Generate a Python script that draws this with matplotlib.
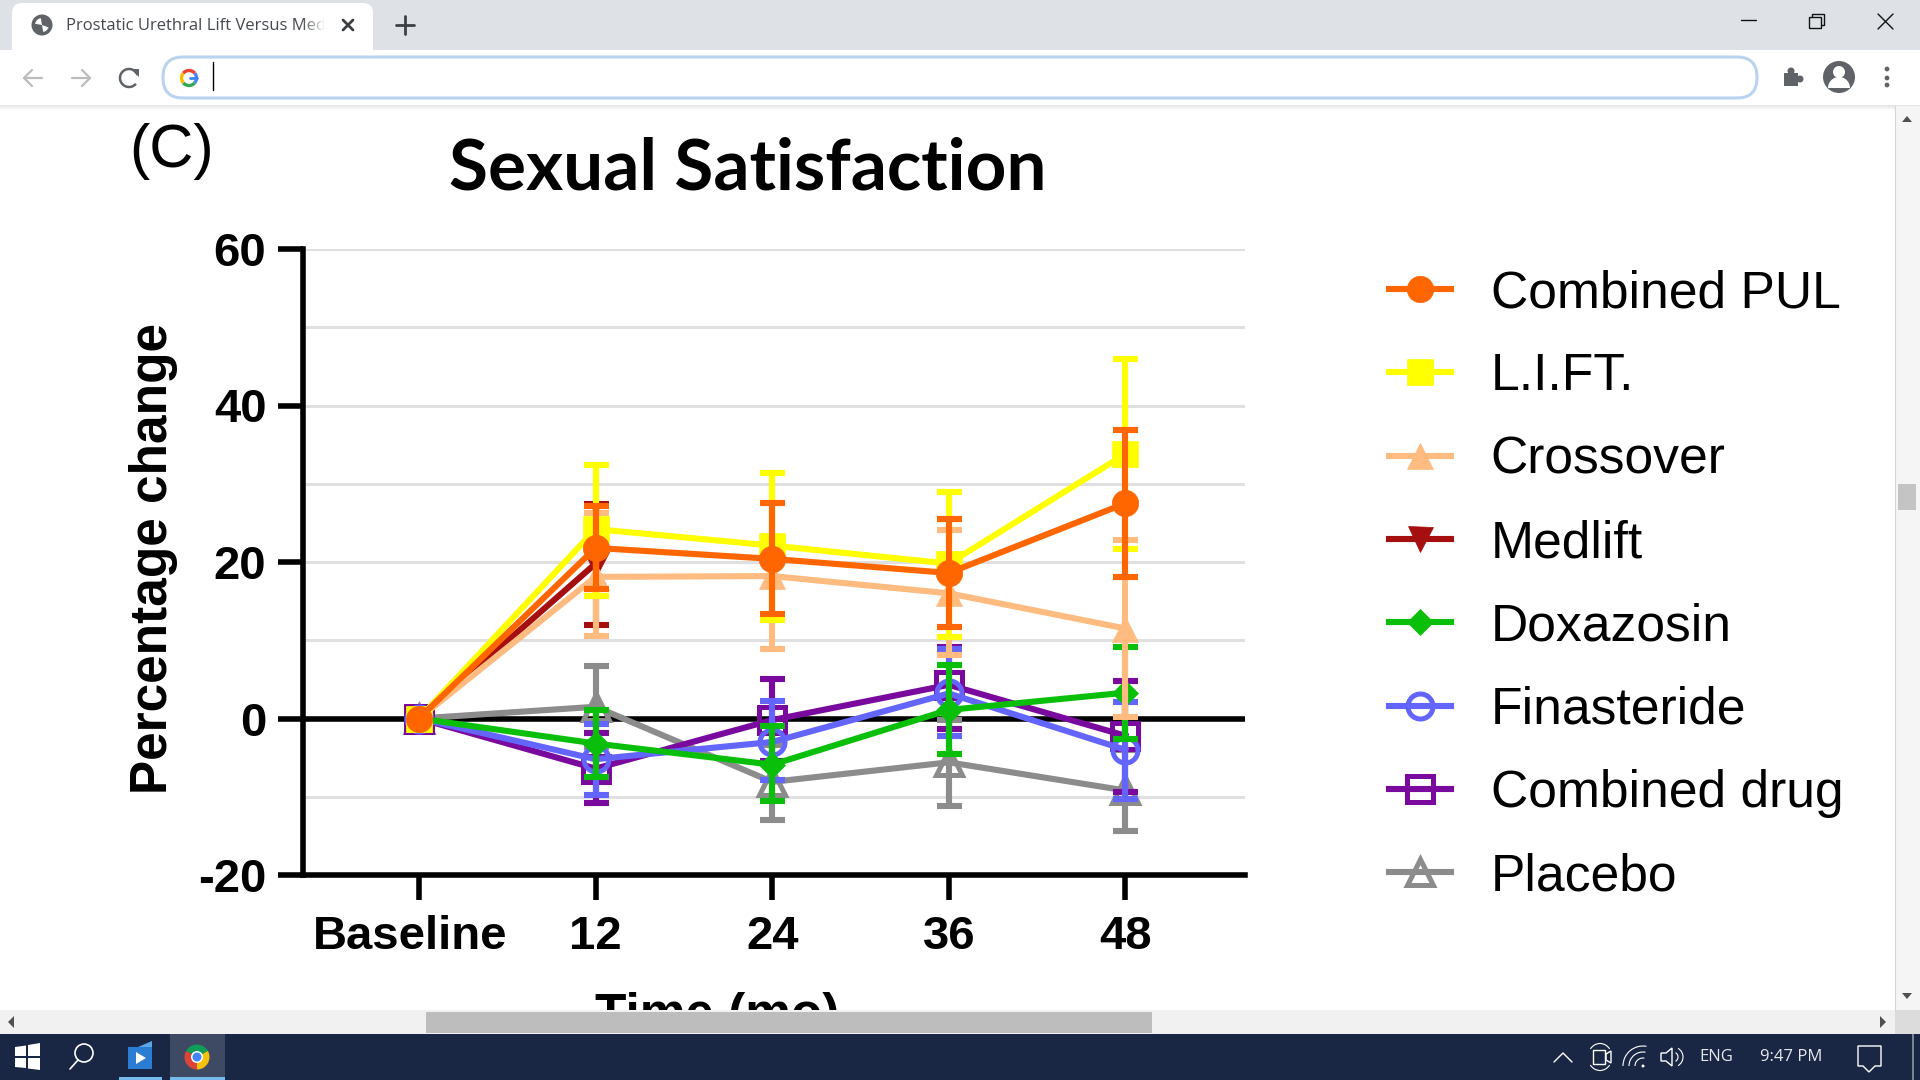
# Sexual Satisfaction chart in a browser window screenshot
import numpy as np
import matplotlib
matplotlib.use("Agg")
import matplotlib.pyplot as plt
from matplotlib.patches import Rectangle, FancyBboxPatch, Circle, Polygon, Arc, Wedge
from matplotlib.transforms import ScaledTranslation

plt.rcParams["axes.unicode_minus"] = False

# --------------------------------------------------- data
time_labels = ["Baseline", "12", "24", "36", "48"]
time_pos = [0, 1, 2, 3, 4]

placebo = [0, 1.5, -8.1, -5.6, -9.2]
placebo_hi = [0, 6.7, -3.4, -0.2, -4.0]
placebo_lo = [0, -3.7, -13.0, -11.2, -14.4]

combined_drug = [0, -6.4, -0.2, 4.3, -2.2]
combined_drug_hi = [0, -1.9, 5.1, 9.1, 4.8]
combined_drug_lo = [0, -10.8, -5.4, -1.3, -9.4]

finasteride = [0, -5.2, -3.0, 3.2, -4.0]
finasteride_hi = [0, -0.7, 2.3, 8.9, 2.1]
finasteride_lo = [0, -9.8, -7.9, -2.3, -10.3]

doxazosin = [0, -3.2, -5.9, 1.1, 3.3]
doxazosin_hi = [0, 1.1, -0.9, 6.8, 9.2]
doxazosin_lo = [0, -7.5, -10.5, -4.6, -2.6]

medlift = [0, 19.8]
medlift_hi = [0, 27.4]
medlift_lo = [0, 12.0]

crossover = [0, 18.1, 18.2, 16.0, 11.5]
crossover_hi = [0, 26.2, 27.5, 24.1, 22.8]
crossover_lo = [0, 10.5, 8.9, 8.1, 0.2]

lift = [0, 24.2, 22.1, 19.8, 33.8]
lift_hi = [0, 32.4, 31.4, 28.9, 46.0]
lift_lo = [0, 15.7, 12.6, 10.4, 21.6]

combined_pul = [0, 21.8, 20.4, 18.6, 27.5]
combined_pul_hi = [0, 27.1, 27.5, 25.5, 36.9]
combined_pul_lo = [0, 16.6, 13.4, 11.7, 18.1]

# --------------------------------------------------- figure, axes placed in pixels
W, H = 1920, 1080
fig = plt.figure(figsize=(W / 100, H / 100), dpi=100)
fig.patch.set_facecolor("white")

ax_l, ax_r, ax_t, ax_b = 302.5, 1245, 249, 875
ax = fig.add_axes([ax_l / W, 1 - ax_b / H, (ax_r - ax_l) / W, (ax_b - ax_t) / H])
ax.set_zorder(1)
tick_x0 = 419
tick_dx = 176.6
ax.set_xlim((ax_l - tick_x0) / tick_dx, (ax_r - tick_x0) / tick_dx)
ax.set_ylim(-20, 60)

LW = 4.4
AXIS_LW = 4
arial = "Liberation Sans"


def draw_series(y, hi, lo, color, marker, label, ms, z, open_marker=False):
    x = time_pos[:len(y)]
    ax.errorbar(x[1:], y[1:],
                yerr=[np.array(y[1:]) - np.array(lo[1:]), np.array(hi[1:]) - np.array(y[1:])],
                fmt="none", ecolor=color, elinewidth=LW, capsize=9, capthick=LW, zorder=z)
    ax.plot(x, y, color=color, lw=LW, marker=marker, ms=ms, label=label, zorder=z,
            mfc="none" if open_marker else color, mec=color, mew=3.6 if open_marker else 0.5)


# legend order is set below, draw order puts Combined PUL on top
draw_series(placebo, placebo_hi, placebo_lo, "#8C8C8C", "^", "Placebo", 19, 3, True)
draw_series(combined_drug, combined_drug_hi, combined_drug_lo, "#7A0A9E", "s", "Combined drug", 19, 3.1, True)
draw_series(finasteride, finasteride_hi, finasteride_lo, "#6464FF", "o", "Finasteride", 18, 3.2, True)
draw_series(doxazosin, doxazosin_hi, doxazosin_lo, "#0ABF0A", "D", "Doxazosin", 13, 3.3)
draw_series(medlift, medlift_hi, medlift_lo, "#A50F0F", "v", "Medlift", 18, 3.4)
draw_series(crossover, crossover_hi, crossover_lo, "#FFBB80", "^", "Crossover", 19, 3.5)
draw_series(lift, lift_hi, lift_lo, "#FFFF00", "s", "L.I.FT.", 19, 3.6)
draw_series(combined_pul, combined_pul_hi, combined_pul_lo, "#FF6600", "o", "Combined PUL", 19, 3.7)

# --------------------------------------------------- axes style
ax.axhline(0, color="black", lw=AXIS_LW, zorder=2)
ax.set_yticks([-20, 0, 20, 40, 60])
ax.set_yticks([-10, 10, 30, 50], minor=True)
ax.tick_params(axis="y", which="minor", length=0)
ax.grid(axis="y", which="both", color="#E0E0E0", lw=2.2, zorder=0)
ax.set_axisbelow(True)
ax.set_xticks(time_pos)
ax.set_xticklabels(time_labels)
ax.tick_params(axis="both", which="major", length=18, width=AXIS_LW, color="black", pad=8)
ax.tick_params(axis="x", pad=11)
for lab in ax.get_xticklabels() + ax.get_yticklabels():
    lab.set_fontfamily(arial)
    lab.set_fontweight("bold")
    lab.set_fontsize(34)
# Baseline sits a little left of its tick
base_lab = ax.get_xticklabels()[0]
base_lab.set_transform(base_lab.get_transform() + ScaledTranslation(-8.5 / 100, 0, fig.dpi_scale_trans))
for s in ["top", "right"]:
    ax.spines[s].set_visible(False)
for s in ["left", "bottom"]:
    ax.spines[s].set_linewidth(AXIS_LW)

handles, labels = ax.get_legend_handles_labels()
leg = ax.legend(handles[::-1], labels[::-1], loc="upper left",
                bbox_to_anchor=(1389 / W, 1 - 269 / H), bbox_transform=fig.transFigure,
                frameon=False, prop={"family": arial, "size": 37.2}, numpoints=1,
                handlelength=1.2, handletextpad=0.77, labelspacing=0.665,
                borderpad=0, borderaxespad=0)

fig.text(748 / W, 1 - 169 / H, "Sexual Satisfaction", family="Lato", weight="bold",
         fontsize=51.2, ha="center", va="center", color="black")
fig.text(172 / W, 1 - 151 / H, "(C)", family=arial, fontsize=44, ha="center", va="center")
fig.text(153 / W, 1 - 559 / H, "Percentage change", family=arial, weight="bold",
         fontsize=37, rotation=90, ha="center", va="center")
fig.text(717 / W, 1 - 992 / H, "Time (mo)", family=arial, weight="bold", fontsize=37,
         ha="center", va="top", zorder=0)

# --------------------------------------------------- browser window around the chart
ui = fig.add_axes([0, 0, 1, 1], zorder=5)
ui.set_xlim(0, W)
ui.set_ylim(H, 0)
ui.axis("off")
ui.patch.set_alpha(0)


def rect(x0, y0, x1, y1, color, **kw):
    ui.add_patch(Rectangle((x0, y0), x1 - x0, y1 - y0, fc=color, ec="none", **kw))


def line(xs, ys, color, lw=1.5):
    ui.plot(xs, ys, color=color, lw=lw, solid_capstyle="round", zorder=5)


# tab strip and toolbar
rect(0, 0, W, 50, "#DEE1E6")
ui.add_patch(FancyBboxPatch((12, 3), 361, 60, boxstyle="round,pad=0,rounding_size=10", fc="white", ec="none"))
rect(0, 50, W, 105, "white")
for i in range(5):
    rect(0, 105 + i, W, 106 + i, "#000000", alpha=0.10 - 0.02 * i)
ui.add_patch(Circle((42, 25), 10.5, fc="#5F6368", ec="none"))
ui.add_patch(Wedge((42, 25), 7, 20, 80, fc="white", ec="none"))
ui.add_patch(Wedge((42, 25), 7, 190, 260, fc="white", ec="none"))
ui.text(66, 26.5, "Prostatic Urethral Lift Versus Med", family="Open Sans", fontsize=12,
        color="#45494E", va="center", ha="left", zorder=3)
for i in range(12):
    rect(304 + 2 * i, 10, 306 + 2 * i, 42, "white", alpha=min(1, 0.1 + i * 0.09), zorder=4)
rect(328, 10, 372, 42, "white", zorder=4)
line([343, 353], [20, 30], "#3C4043", 2)
line([343, 353], [30, 20], "#3C4043", 2)
line([396, 414], [25, 25], "#3C4043", 2)
line([405, 405], [16, 34], "#3C4043", 2)
# nav buttons
line([24, 42], [78, 78], "#BABCBE", 1.6)
line([32, 24, 32], [70, 78, 86], "#BABCBE", 1.6)
line([72, 90], [78, 78], "#BABCBE", 1.6)
line([82, 90, 82], [70, 78, 86], "#BABCBE", 1.6)
ui.add_patch(Arc((129, 78), 18, 18, theta1=-320, theta2=-20, ec="#5F6368", lw=1.8))
ui.add_patch(Polygon([[131, 69], [139, 69], [139, 77]], fc="#5F6368", ec="none"))
# address bar
ui.add_patch(FancyBboxPatch((163, 57), 1594, 41, boxstyle="round,pad=0,rounding_size=20",
                            fc="white", ec="#B9D3F0", lw=2.2))
ui.add_patch(Arc((189, 78), 15, 15, theta1=-40, theta2=40, ec="#4285F4", lw=2.4))
ui.add_patch(Arc((189, 78), 15, 15, theta1=40, theta2=140, ec="#34A853", lw=2.4))
ui.add_patch(Arc((189, 78), 15, 15, theta1=140, theta2=220, ec="#FBBC05", lw=2.4))
ui.add_patch(Arc((189, 78), 15, 15, theta1=220, theta2=320, ec="#EA4335", lw=2.4))
line([190, 197], [78, 78], "#4285F4", 2)
line([213, 213], [62, 90], "black", 1)
# toolbar icons right
rect(1784, 73, 1798, 86, "#5F6368")
ui.add_patch(Circle((1791, 71), 3.5, fc="#5F6368", ec="none"))
ui.add_patch(Circle((1800, 79), 3.5, fc="#5F6368", ec="none"))
ui.add_patch(Circle((1839, 77), 16, fc="#5F6368", ec="none"))
ui.add_patch(Circle((1839, 72), 6, fc="white", ec="none"))
ui.add_patch(Wedge((1839, 88), 11, 180, 360, fc="white", ec="none"))
for yy in [69, 78, 85]:
    ui.add_patch(Circle((1887, yy), 2.4, fc="#5F6368", ec="none"))
# window controls
line([1741, 1756], [20, 20], "#111111", 1)
ui.add_patch(Rectangle((1809, 17), 12, 11, fc="none", ec="#111111", lw=1))
line([1812, 1812, 1824, 1824, 1821], [17, 14, 14, 25, 25], "#111111", 1)
line([1878, 1893], [14, 29], "#111111", 1)
line([1878, 1893], [29, 14], "#111111", 1)

# scrollbars
rect(1895, 106, W, 1010, "#F5F5F5")
line([1895, 1895], [106, 1010], "#D5D5D5", 0.8)
rect(1898, 484, 1916, 510, "#C4C4C4")
ui.add_patch(Polygon([[1902, 122], [1912, 122], [1907, 116]], fc="#505050", ec="none"))
ui.add_patch(Polygon([[1902, 993], [1912, 993], [1907, 999]], fc="#505050", ec="none"))
rect(0, 1010, W, 1034, "#F1F1F1")
rect(426, 1012, 1152, 1033, "#BDBDBD")
rect(1895, 1010, W, 1034, "#DCDCDC")
ui.add_patch(Polygon([[14, 1016], [14, 1028], [8, 1022]], fc="#505050", ec="none"))
ui.add_patch(Polygon([[1880, 1016], [1880, 1028], [1886, 1022]], fc="#505050", ec="none"))

# taskbar
rect(0, 1034, W, H, "#1A2744")
rect(170, 1034, 225, H, "#3E4A63")
rect(119, 1077, 162, H, "#76B9ED")
rect(170, 1077, 225, H, "#76B9ED")
ui.add_patch(Polygon([[15, 1047], [26, 1045.5], [26, 1056], [15, 1056]], fc="white", ec="none"))
ui.add_patch(Polygon([[28, 1045], [40, 1043], [40, 1056], [28, 1056]], fc="white", ec="none"))
ui.add_patch(Polygon([[15, 1058], [26, 1058], [26, 1068], [15, 1067]], fc="white", ec="none"))
ui.add_patch(Polygon([[28, 1058], [40, 1058], [40, 1070], [28, 1068.5]], fc="white", ec="none"))
ui.add_patch(Circle((84, 1053), 9, fc="none", ec="white", lw=1.2))
line([78, 70], [1060, 1069], "white", 1.2)
rect(128, 1047, 152, 1069, "#2B7CD3")
ui.add_patch(Polygon([[136, 1052], [146, 1058], [136, 1064]], fc="white", ec="none"))
ui.add_patch(Polygon([[138, 1047], [152, 1041], [152, 1047]], fc="#5AA9E6", ec="none"))
ui.add_patch(Wedge((197, 1057), 12.5, 90, 210, fc="#DB4437", ec="none"))
ui.add_patch(Wedge((197, 1057), 12.5, 330, 90, fc="#F4C20D", ec="none"))
ui.add_patch(Wedge((197, 1057), 12.5, 210, 330, fc="#0F9D58", ec="none"))
ui.add_patch(Circle((197, 1057), 6, fc="white", ec="none"))
ui.add_patch(Circle((197, 1057), 4.5, fc="#4285F4", ec="none"))
# tray
line([1554, 1563, 1572], [1062, 1053, 1062], "white", 1)
ui.add_patch(Rectangle((1593, 1050), 12, 14, fc="none", ec="white", lw=1))
ui.add_patch(Polygon([[1606, 1054], [1611, 1051], [1611, 1063], [1606, 1060]], fc="none", ec="white", lw=1))
ui.add_patch(Arc((1600, 1057), 24, 27, theta1=220, theta2=320, ec="white", lw=0.8))
ui.add_patch(Arc((1600, 1057), 24, 27, theta1=40, theta2=140, ec="white", lw=0.8))
for r in [8, 14, 20]:
    ui.add_patch(Arc((1643, 1066), 2 * r, 2 * r, theta1=180, theta2=280, ec="white", lw=0.8))
ui.add_patch(Circle((1643, 1066), 1.5, fc="white", ec="none"))
ui.add_patch(Polygon([[1661, 1053], [1666, 1053], [1672, 1048], [1672, 1066], [1666, 1061], [1661, 1061]],
                     fc="none", ec="white", lw=1))
ui.add_patch(Arc((1673, 1057), 10, 10, theta1=-60, theta2=60, ec="white", lw=0.8))
ui.add_patch(Arc((1673, 1057), 20, 20, theta1=-60, theta2=60, ec="white", lw=0.8))
ui.text(1716, 1057, "ENG", family="Open Sans", fontsize=12, color="#E6E8EC", ha="center", va="center")
ui.text(1791, 1057, "9:47 PM", family="Open Sans", fontsize=12, color="#E6E8EC", ha="center", va="center")
ui.add_patch(Polygon([[1858, 1046], [1881, 1046], [1881, 1066], [1875, 1066], [1869, 1072], [1863, 1066], [1858, 1066]],
                     fc="none", ec="white", lw=1))
rect(1912, 1034, 1914, H, "#7A8294")

plt.savefig("out.png", dpi=100)
